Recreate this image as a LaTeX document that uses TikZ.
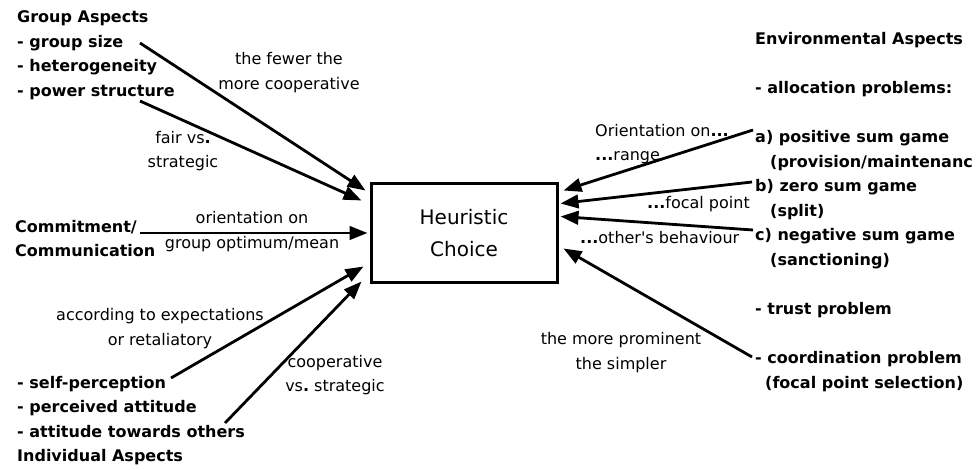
\documentclass[tikz,border=0pt]{standalone}
\usepackage{fontspec}
\setmainfont{DejaVu Sans}
\usetikzlibrary{arrows.meta,calc}
\frenchspacing
\begin{document}
\begin{tikzpicture}[x=1pt,y=-1pt,
  lbl/.style={font=\fontsize{16}{19}\selectfont, inner sep=0pt, anchor=base},
  lblw/.style={lbl, anchor=base west},
  item/.style={font=\fontsize{16}{19}\selectfont\bfseries, inner sep=0pt, anchor=base west},
  link/.style={line width=2.8pt, -{Triangle[length=18pt,width=13.5pt]}},
  choice/.style={draw, line width=3pt, minimum width=186pt, minimum height=99pt,
                 align=center, font=\fontsize{20}{32}\selectfont}]
\useasboundingbox (0,0) rectangle (977,470);

% central box
\node[choice] (box) at (464,233.5) {Heuristic\\Choice};

% group aspects
\node[item] (gh) at (17,23)   {Group Aspects};
\node[item] (g1) at (17,47.5) {- group size};
\node[item] (g2) at (17,72)   {- heterogeneity};
\node[item] (g3) at (17,96.5) {- power structure};

% commitment
\node[item] (c1) at (15,233) {Commitment/};
\node[item] (c2) at (15,257) {Communication};

% individual aspects
\node[item] (i1) at (17,388.5) {- self-perception};
\node[item] (i2) at (17,412.5) {- perceived attitude};
\node[item] (i3) at (17,437)   {- attitude towards others};
\node[item] (ih) at (17,461.5) {Individual Aspects};

% environmental aspects
\node[item] (eh) at (755,45)    {Environmental Aspects};
\node[item] (e1) at (755,94)    {- allocation problems:};
\node[item] (ea) at (755,143)   {a) positive sum game};
\node[item] (ea2) at (770,167.5){(provision/maintenanc};
\node[item] (eb) at (755,192)   {b) zero sum game};
\node[item] (eb2) at (770,216.5){(split)};
\node[item] (ec) at (755,241)   {c) negative sum game};
\node[item] (ec2) at (770,265.5){(sanctioning)};
\node[item] (et) at (755,314.5) {- trust problem};
\node[item] (ek) at (755,363.5) {- coordination problem};
\node[item] (ek2) at (765,388)  {(focal point selection)};

% edge labels
\node[lbl] (l1a) at (289,64.5)  {the fewer the};
\node[lbl] (l1b) at (289,90)    {more cooperative};
\node[lbl] (l2a) at (183,143.5) {fair vs\textbf{.}};
\node[lbl] (l2b) at (183,168)   {strategic};
\node[lbl] (l3a) at (252,223.5) {orientation on};
\node[lbl] (l3b) at (252,248.5) {group optimum/mean};
\node[lbl] (l4a) at (160,320.5) {according to expectations};
\node[lbl] (l4b) at (160,345.5) {or retaliatory};
\node[lbl] (l5a) at (335,367)   {cooperative};
\node[lbl] (l5b) at (335,391)   {vs\textbf{.} strategic};
\node[lblw] (r1a) at (595,136.5) {Orientation on\textbf{...}};
\node[lblw] (r1b) at (595,160.5) {\textbf{...}range};
\node[lblw] (r2)  at (647,208.5) {\textbf{...}focal point};
\node[lblw] (r3)  at (580,243.5) {\textbf{...}other\textquotesingle s behaviour};
\node[lbl] (r4a) at (621,344.5) {the more prominent};
\node[lbl] (r4b) at (621,369)   {the simpler};

% connector ends
\coordinate (s1) at (140,43);
\coordinate (s2) at (140,101);
\coordinate (s3) at (140,233);
\coordinate (s4) at (171,378);
\coordinate (s5) at (225,423);
\coordinate (s6) at (753,130);
\coordinate (s7) at (752,182);
\coordinate (s8) at (753,230);
\coordinate (s9) at (752,357);

\coordinate (t1) at ($(box.north west)+(-4,8)$);
\coordinate (t2) at ($(box.north west)+(-8,18)$);
\coordinate (t3) at ($(box.west)+(-2,-0.5)$);
\coordinate (t4) at ($(box.south west)+(-6,-18)$);
\coordinate (t5) at ($(box.south west)+(-8,-3)$);
\coordinate (t6) at ($(box.north east)+(5,8)$);
\coordinate (t7) at ($(box.north east)+(2,21)$);
\coordinate (t8) at ($(box.north east)+(2,34)$);
\coordinate (t9) at ($(box.north east)+(5,66)$);

\draw[link] (s1) -- (t1);
\draw[link] (s2) -- (t2);
\draw[link] (s3) -- (t3);
\draw[link] (s4) -- (t4);
\draw[link] (s5) -- (t5);
\draw[link] (s6) -- (t6);
\draw[link] (s7) -- (t7);
\draw[link] (s8) -- (t8);
\draw[link] (s9) -- (t9);
\end{tikzpicture}
\end{document}
